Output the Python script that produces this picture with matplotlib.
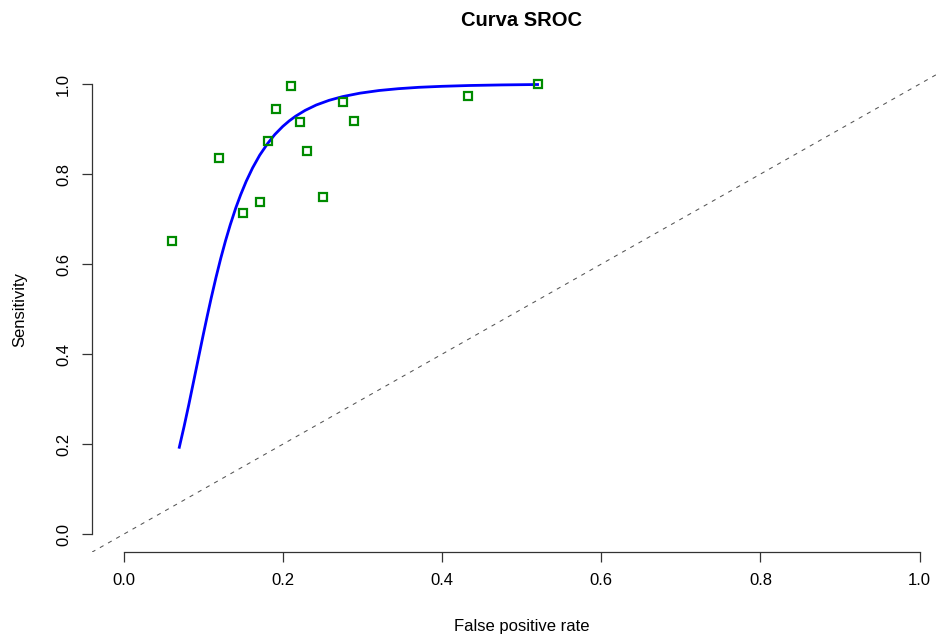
import matplotlib
matplotlib.use("Agg")
import matplotlib.pyplot as plt

plt.rcParams["font.family"] = ["Liberation Sans", "DejaVu Sans"]

# estudios individuales (FPR, sensibilidad)
fpr = [0.061, 0.120, 0.150, 0.171, 0.181, 0.191, 0.210, 0.221,
       0.231, 0.251, 0.276, 0.289, 0.433, 0.520]
sens = [0.651, 0.835, 0.713, 0.739, 0.873, 0.944, 0.995, 0.915,
        0.851, 0.748, 0.960, 0.917, 0.973, 1.000]

# curva SROC
curve_fpr = [0.070, 0.076, 0.082, 0.088, 0.095, 0.100, 0.105, 0.110, 0.116,
             0.122, 0.128, 0.134, 0.141, 0.147, 0.154, 0.162, 0.171, 0.181,
             0.190, 0.200, 0.208, 0.216, 0.228, 0.242, 0.258, 0.275, 0.297,
             0.321, 0.345, 0.371, 0.400, 0.434, 0.475, 0.520]
curve_sens = [0.1932, 0.2394, 0.2884, 0.3397, 0.3998, 0.4425, 0.4840, 0.5242,
              0.5698, 0.6124, 0.6515, 0.6873, 0.7251, 0.7538, 0.7838, 0.8135,
              0.8420, 0.8680, 0.8879, 0.9059, 0.9180, 0.9284, 0.9414, 0.9534,
              0.9637, 0.9720, 0.9797, 0.9856, 0.9896, 0.9927, 0.9949, 0.9967,
              0.9980, 0.9989]

fig = plt.figure(figsize=(9.36, 6.39), dpi=100)
ax = fig.add_axes([0.098, 0.1357, 0.9186, 0.761])

ax.axline((0, 0), slope=1, color="#555555", lw=0.75, linestyle=(0, (4, 5)))
ax.plot(curve_fpr, curve_sens, color="blue", lw=2)
ax.plot(fpr, sens, linestyle="none", marker="s", ms=5.5, mew=1.6,
        mfc="none", mec="#008B00")

ax.set_xlim(-0.04, 1.04)
ax.set_ylim(-0.04, 1.04)
ticks = [0.0, 0.2, 0.4, 0.6, 0.8, 1.0]
ax.set_xticks(ticks)
ax.set_yticks(ticks)
ax.set_xticklabels([f"{t:.1f}" for t in ticks])
ax.set_yticklabels([f"{t:.1f}" for t in ticks], rotation=90, va="center")

for s in ["top", "right"]:
    ax.spines[s].set_visible(False)
for s in ["left", "bottom"]:
    ax.spines[s].set_bounds(0, 1)
    ax.spines[s].set_color("#333333")
    ax.spines[s].set_linewidth(0.9)
ax.tick_params(length=7, width=0.9, color="#333333", labelsize=12, pad=8)

ax.set_xlabel("False positive rate", fontsize=12, va="center")
ax.xaxis.set_label_coords(0.5, -0.1516)
ax.set_ylabel("Sensitivity", fontsize=12, va="center")
ax.yaxis.set_label_coords(-0.0834, 0.5)

fig.text(521.6 / 936, 1 - 20 / 639, "Curva SROC", fontsize=14.5,
         fontweight="bold", ha="center", va="center")

fig.savefig("out.png", dpi=100)
